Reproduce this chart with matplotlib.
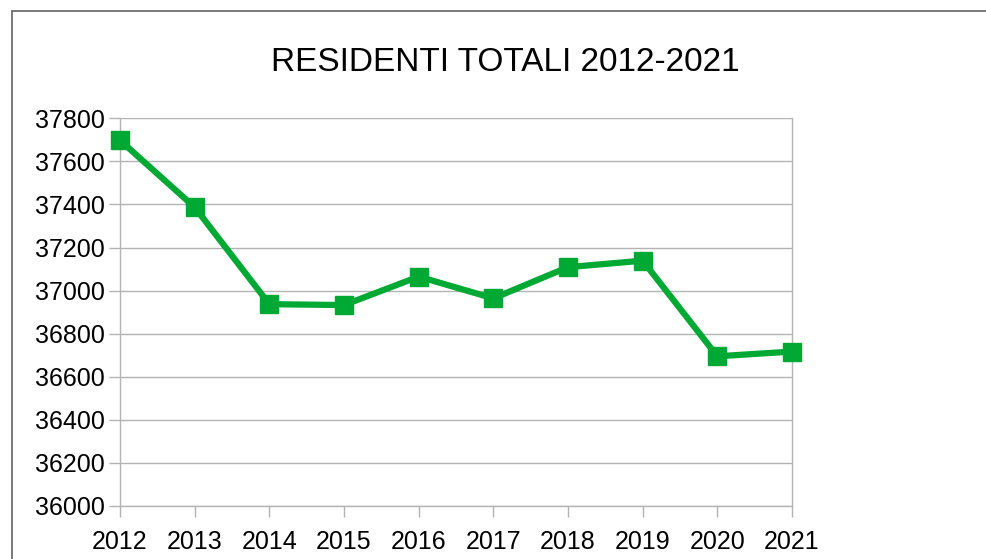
import matplotlib
matplotlib.use("Agg")
import matplotlib.pyplot as plt
from matplotlib.patches import Rectangle

# data
years = ["2012", "2013", "2014", "2015", "2016", "2017", "2018", "2019", "2020", "2021"]
residents = [37698, 37387, 36937, 36933, 37065, 36964, 37109, 37139, 36695, 36717]
y_ticks = [36000, 36200, 36400, 36600, 36800, 37000, 37200, 37400, 37600, 37800]

plt.rcParams['font.family'] = ['Liberation Sans', 'DejaVu Sans']

W, H = 987, 559
fig = plt.figure(figsize=(W / 100, H / 100), dpi=100)

# outer chart border (the picture is cropped on the right and bottom)
fig.patches.append(Rectangle((11.5 / W, -0.1), 1.2, 1.1 - 11.5 / H,
                             transform=fig.transFigure, fill=False,
                             edgecolor='#6e6e6e', lw=1.3))

ax = fig.add_axes([120 / W, 1 - 506 / H, (792 - 120) / W, (506 - 118.3) / H])

x = list(range(len(years)))
ax.plot(x, residents, color='#00a933', lw=4.5, marker='s', markersize=13.5,
        solid_joinstyle='miter', zorder=3, clip_on=False)

ax.set_xlim(0, len(years) - 1)
ax.set_ylim(36000, 37800)
ax.set_xticks(x)
ax.set_xticklabels(years)
ax.set_yticks(y_ticks)

ax.grid(axis='y', color='#b3b3b3', lw=1)
ax.spines['top'].set_visible(False)
for s in ['left', 'right', 'bottom']:
    ax.spines[s].set_color('#b3b3b3')
    ax.spines[s].set_linewidth(1)

ax.tick_params(axis='both', colors='#b3b3b3', length=8, width=1,
               labelcolor='black', labelsize=18)
ax.tick_params(axis='y', pad=3)
ax.tick_params(axis='x', pad=9)

fig.text(505 / W, 1 - 62 / H, 'RESIDENTI TOTALI 2012-2021', fontsize=24,
         ha='center', va='center')

fig.savefig('out.png', dpi=100)
